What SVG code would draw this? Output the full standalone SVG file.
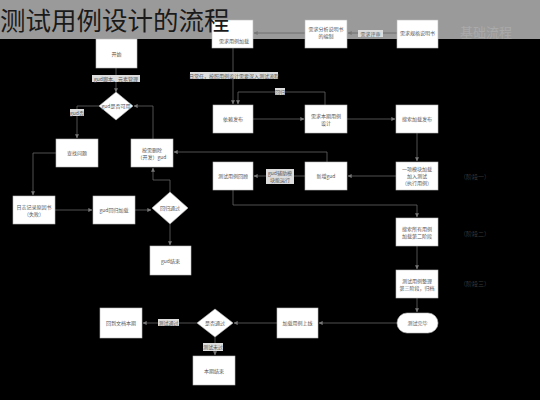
<svg xmlns="http://www.w3.org/2000/svg" width="540" height="400" viewBox="0 0 540 400">
<defs>
<marker id="ah" viewBox="0 0 6 6" refX="5.5" refY="3" markerWidth="5" markerHeight="5" orient="auto">
<path d="M0,0 L6,3 L0,6 z" fill="#777"/>
</marker>
<style>
.bx{fill:#fff;stroke:#bbb;stroke-width:0.6}
.tx{font-family:"Noto Sans CJK SC","Liberation Sans",sans-serif;font-size:5px;fill:#555;text-anchor:middle}
.lb{fill:#ddd}
.ln{fill:none;stroke:#666;stroke-width:0.8;marker-end:url(#ah)}
.st{font-family:"Noto Sans CJK SC","Liberation Sans",sans-serif;font-size:5px;fill:#555;text-anchor:middle}
.sg{font-family:"Noto Sans CJK SC","Liberation Sans",sans-serif;font-size:6px;fill:#3a3a3a;text-anchor:middle}
</style>
</defs>
<rect x="0" y="0" width="540" height="400" fill="#000"/>
<rect x="0" y="0" width="540" height="39" fill="#9a9a9a"/>

<g id="connectors">
<path class="ln" d="M116,68 V92"/>
<path class="ln" d="M100,106 H77 V138"/>
<path class="ln" d="M56,153 H33 V195"/>
<path class="ln" d="M55,210 H92"/>
<path class="ln" d="M135,210 H151"/>
<path class="ln" d="M170,224 V245"/>
<path class="ln" d="M170,192 V180 H153 V168"/>
<path class="ln" d="M153,139 V106 H134"/>
<path class="ln" d="M327,162 V152 H174"/>
<path class="ln" d="M396,176 H348"/>
<path class="ln" d="M305,176 H254"/>
<path class="ln" d="M233,190 V205 H417 V217"/>
<path class="ln" d="M417,246 V269"/>
<path class="ln" d="M417,298 V312"/>
<path class="ln" d="M397,323 H319"/>
<path class="ln" d="M277,323 H234"/>
<path class="ln" d="M197,323 H143"/>
<path class="ln" d="M215,337 V355"/>
<path class="ln" d="M305,33 H254"/>
<path class="ln" d="M397,33 H348"/>
<path class="ln" d="M233,48 V104"/>
<path class="ln" d="M325,105 V92 H238 V104"/>
<path class="ln" d="M253,119 H304"/>
<path class="ln" d="M347,119 H395"/>
<path class="ln" d="M417,133 V161"/>
</g>

<g id="labels">
<rect class="lb" x="92" y="75" width="48" height="7"/>
<text class="st" x="116" y="80.5">gud脚本、元素管理</text>
<rect class="lb" x="70" y="109" width="14" height="7"/>
<text class="st" x="77" y="114.5">gud否</text>
<rect class="lb" x="190" y="72" width="88" height="7"/>
<text class="st" x="234" y="77.5">日常任，按照用例设计需要深入测试流程</text>
<rect class="lb" x="275" y="88" width="10" height="7"/>
<text class="st" x="280" y="93.5">回归</text>
<rect class="lb" x="358" y="30" width="25" height="7"/>
<text class="st" x="370.5" y="35.5">需求评审</text>
<rect class="lb" x="266" y="169" width="28" height="15"/>
<text class="st" x="280" y="175">gud辅助模</text>
<text class="st" x="280" y="182">块能运行</text>
<rect class="lb" x="158" y="319" width="21" height="7"/>
<text class="st" x="168.5" y="324.5">测试通过</text>
<rect class="lb" x="203" y="343" width="20" height="8"/>
<text class="st" x="213" y="349">测试未过</text>
</g>

<g id="n1"><rect class="bx" x="96" y="39" width="41" height="29"/><text class="tx" x="116.5" y="55.5">开始</text></g>
<g id="d1"><polygon class="bx" points="116,92 133,106 116,120 99,106"/><text class="tx" x="116" y="108">gud是否可用</text></g>
<g id="n2"><rect class="bx" x="56" y="139" width="42" height="28"/><text class="tx" x="77" y="155">查找问题</text></g>
<g id="n3"><rect class="bx" x="131" y="139" width="42" height="28"/><text class="tx" x="152" y="151.5">按需删除</text><text class="tx" x="152" y="158.5">（开发）gud</text></g>
<g id="n4"><rect class="bx" x="13" y="196" width="42" height="28"/><text class="tx" x="34" y="208.5">日志记录原因书</text><text class="tx" x="34" y="215.5">（失败）</text></g>
<g id="n5"><rect class="bx" x="93" y="196" width="42" height="28"/><text class="tx" x="114" y="212">gud回归加载</text></g>
<g id="d2"><polygon class="bx" points="170,192 188,208 170,224 152,208"/><text class="tx" x="170" y="210">回归通过</text></g>
<g id="n6"><rect class="bx" x="150" y="246" width="41" height="29"/><text class="tx" x="170.5" y="262.5">gud结束</text></g>

<g id="t1"><rect class="bx" x="212" y="20" width="41" height="28"/><text class="tx" x="234" y="43">需求用例加载</text></g>
<g id="t2"><rect class="bx" x="305" y="20" width="42" height="28"/><text class="tx" x="326" y="31">需求分析说明书</text><text class="tx" x="326" y="38">的编制</text></g>
<g id="t3"><rect class="bx" x="397" y="20" width="41" height="28"/><text class="tx" x="417.5" y="35">需求规格说明书</text></g>

<g id="title">
<text x="0" y="30" font-family="Noto Sans CJK SC, Liberation Sans, sans-serif" font-size="25.5" fill="#1a1a1a">测试用例设计的流程</text>
<text x="486" y="37" font-family="Noto Sans CJK SC, Liberation Sans, sans-serif" font-size="13" fill="#aaaaaa" text-anchor="middle">基础流程</text>
</g>

<g id="n7"><rect class="bx" x="213" y="105" width="40" height="28"/><text class="tx" x="233" y="121">依赖发布</text></g>
<g id="n8"><rect class="bx" x="305" y="105" width="42" height="28"/><text class="tx" x="326" y="117.5">需求本期用例</text><text class="tx" x="326" y="124.5">设计</text></g>
<g id="n9"><rect class="bx" x="396" y="105" width="42" height="28"/><text class="tx" x="417" y="121">搜索加载发布</text></g>
<g id="n10"><rect class="bx" x="213" y="162" width="40" height="28"/><text class="tx" x="233" y="178">测试用例回顾</text></g>
<g id="n11"><rect class="bx" x="305" y="162" width="42" height="28"/><text class="tx" x="326" y="178">新增gud</text></g>
<g id="n12"><rect class="bx" x="396" y="162" width="42" height="28"/><text class="tx" x="417" y="171">一项模块加载</text><text class="tx" x="417" y="178">加入测试</text><text class="tx" x="417" y="185">（执行用例）</text></g>
<g id="n13"><rect class="bx" x="396" y="218" width="42" height="28"/><text class="tx" x="417" y="230.5">搜索所有用例</text><text class="tx" x="417" y="237.5">加载第二阶段</text></g>
<g id="n14"><rect class="bx" x="396" y="270" width="42" height="28"/><text class="tx" x="417" y="282.5">测试用例整理</text><text class="tx" x="417" y="289.5">第三阶段，归档</text></g>
<g id="n15"><rect class="bx" x="397" y="313" width="41" height="20" rx="10" ry="10"/><text class="tx" x="417.5" y="325">测试完毕</text></g>
<g id="n16"><rect class="bx" x="277" y="308" width="41" height="30"/><text class="tx" x="297.5" y="325">加载用例上线</text></g>
<g id="d3"><polygon class="bx" points="215,309 233,323 215,337 197,323"/><text class="tx" x="215" y="325">是否通过</text></g>
<g id="n17"><rect class="bx" x="100" y="308" width="42" height="30"/><text class="tx" x="121" y="325">回到文档本期</text></g>
<g id="n18"><rect class="bx" x="193" y="356" width="42" height="29"/><text class="tx" x="214" y="372.5">本期结束</text></g>

<g id="stages">
<text class="sg" x="475" y="179">（阶段一）</text>
<text class="sg" x="475" y="236">（阶段二）</text>
<text class="sg" x="475" y="286">（阶段三）</text>
</g>
</svg>
